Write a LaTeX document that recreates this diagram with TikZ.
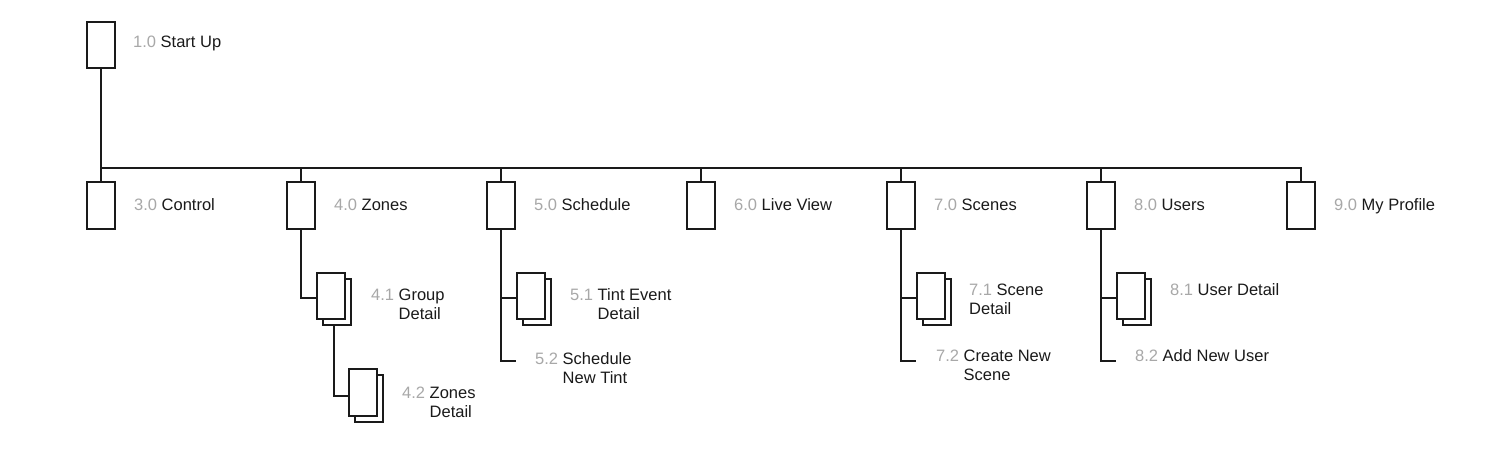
\documentclass[tikz,border=0pt]{standalone}
\usepackage{fontspec}
\setmainfont{Liberation Sans}
\definecolor{ink}{HTML}{1A1A1A}
\definecolor{numgray}{HTML}{A8A8A8}
\newcommand\numtxt[1]{\textcolor{numgray}{#1}}
\begin{document}
\begin{tikzpicture}[x=1pt,y=-1pt,
  box/.style={draw=ink, line width=1.8pt, fill=white, minimum width=28pt, minimum height=46.5pt, inner sep=0pt},
  conn/.style={draw=ink, line width=1.8pt},
  lbl/.style={anchor=base west, inner sep=0pt, text=ink, font=\fontsize{16.5}{19}\selectfont}]
\useasboundingbox[fill=white] (0,0) rectangle (1500,451);

% top
\node[box] (b1) at (101,45) {};
\node[lbl] (t1) at (133,47) {\numtxt{1.0} Start Up};

% level 1
\node[box] (b3) at (101,205.5) {};
\node[box] (b4) at (301,205.5) {};
\node[box] (b5) at (501,205.5) {};
\node[box] (b6) at (701,205.5) {};
\node[box] (b7) at (901,205.5) {};
\node[box] (b8) at (1101,205.5) {};
\node[box] (b9) at (1301,205.5) {};
\node[lbl] (t3) at (134,210) {\numtxt{3.0} Control};
\node[lbl] (t4) at (334,210) {\numtxt{4.0} Zones};
\node[lbl] (t5) at (534,210) {\numtxt{5.0} Schedule};
\node[lbl] (t6) at (734,210) {\numtxt{6.0} Live View};
\node[lbl] (t7) at (934,210) {\numtxt{7.0} Scenes};
\node[lbl] (t8) at (1134,210) {\numtxt{8.0} Users};
\node[lbl] (t9) at (1334,210) {\numtxt{9.0} My Profile};

% bus
\coordinate (bus) at (0,168);
\draw[conn] (b1.south) -- (b3.north);
\draw[conn] (b3.north |- bus) -- (b9.north |- bus) -- (b9.north);
\foreach \n in {b4,b5,b6,b7,b8} \draw[conn] (\n.north |- bus) -- (\n.north);

% level 2 stacked boxes
\node[box] (b41b) at (337,302) {};
\node[box] (b41) at (331,296) {};
\node[box] (b42b) at (369,398.5) {};
\node[box] (b42) at (363,392.5) {};
\node[box] (b51b) at (537,302) {};
\node[box] (b51) at (531,296) {};
\node[box] (b71b) at (937,302) {};
\node[box] (b71) at (931,296) {};
\node[box] (b81b) at (1137,302) {};
\node[box] (b81) at (1131,296) {};

% end points for items without boxes
\coordinate (e52) at (516,361);
\coordinate (e72) at (916,361);
\coordinate (e82) at (1116,361);

% connectors
\draw[conn] (b4.south) |- ([yshift=-2pt]b41.west);
\draw[conn] ([xshift=-3pt]b41b.south) |- ([yshift=-3.5pt]b42.west);
\draw[conn] (b5.south) |- (e52);
\draw[conn] ([yshift=-2pt]b51.west -| b5.south) -- ([yshift=-2pt]b51.west);
\draw[conn] (b7.south) |- (e72);
\draw[conn] ([yshift=-2pt]b71.west -| b7.south) -- ([yshift=-2pt]b71.west);
\draw[conn] (b8.south) |- (e82);
\draw[conn] ([yshift=-2pt]b81.west -| b8.south) -- ([yshift=-2pt]b81.west);

% level 2 labels
\node[lbl] (t41) at (371,300) {\begin{tabular}[t]{@{}l@{}}\numtxt{4.1} Group\\\hphantom{\numtxt{4.1} }Detail\end{tabular}};
\node[lbl] (t42) at (402,398) {\begin{tabular}[t]{@{}l@{}}\numtxt{4.2} Zones\\\hphantom{\numtxt{4.2} }Detail\end{tabular}};
\node[lbl] (t51) at (570,300) {\begin{tabular}[t]{@{}l@{}}\numtxt{5.1} Tint Event\\\hphantom{\numtxt{5.1} }Detail\end{tabular}};
\node[lbl] (t52) at (535,364) {\begin{tabular}[t]{@{}l@{}}\numtxt{5.2} Schedule\\\hphantom{\numtxt{5.2} }New Tint\end{tabular}};
\node[lbl] (t71) at (969,295) {\begin{tabular}[t]{@{}l@{}}\numtxt{7.1} Scene\\Detail\end{tabular}};
\node[lbl] (t72) at (936,361) {\begin{tabular}[t]{@{}l@{}}\numtxt{7.2} Create New\\\hphantom{\numtxt{7.2} }Scene\end{tabular}};
\node[lbl] (t81) at (1170,295) {\numtxt{8.1} User Detail};
\node[lbl] (t82) at (1135,361) {\numtxt{8.2} Add New User};
\end{tikzpicture}
\end{document}
